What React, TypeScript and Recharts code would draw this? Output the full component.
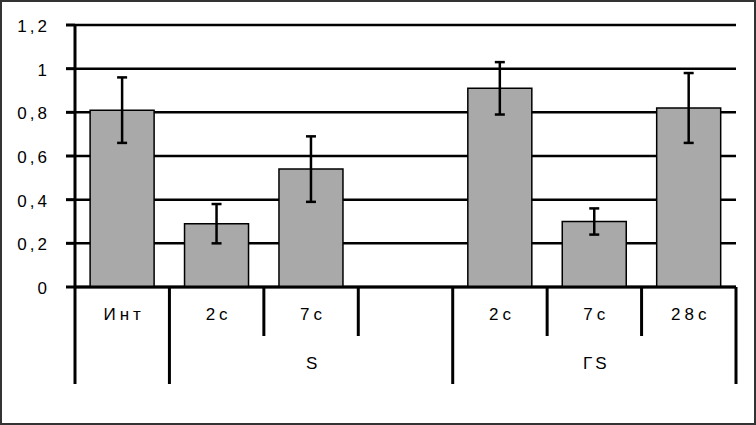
import React from "react";
import {
	Bar,
	BarChart,
	CartesianGrid,
	ErrorBar,
	XAxis,
	YAxis,
} from "recharts";

// categories along the bottom, one bar per slot ("" = empty slot)
const categories = ["Инт", "2с", "7с", "", "2с", "7с", "28с"];
const values = [0.81, 0.29, 0.54, null, 0.91, 0.3, 0.82];
const errors = [0.15, 0.09, 0.15, null, 0.12, 0.06, 0.16];
// second-row groups (index ranges into categories)
const groups = [
	{ label: "", from: 0, to: 0 },
	{ label: "S", from: 1, to: 3 },
	{ label: "ГS", from: 4, to: 6 },
];
const yTicks = [0, 0.2, 0.4, 0.6, 0.8, 1, 1.2];

const W = 756;
const H = 425;
const margin = { top: 25, right: 20, bottom: 0, left: 15 };
const Y_W = 60;
const X_H = 138;
const band = (W - margin.left - Y_W - margin.right) / categories.length;
const font = "'Liberation Sans', Arial, sans-serif";

const data = categories.map((c, i) => ({
	id: String(i),
	cat: c,
	value: values[i],
	err: errors[i],
}));

const fmt = (v: number) => String(v).replace(".", ",");

const YTick = (props: any) => {
	const { x, y, payload } = props;
	return (
		<text
			x={x}
			y={y}
			dy={7}
			textAnchor="end"
			fontFamily={font}
			fontSize={17}
			letterSpacing={3}
			fill="#000"
		>
			{fmt(payload.value)}
		</text>
	);
};

const CatTick = (props: any) => {
	const { x, y, index } = props;
	const left = x - band / 2;
	const right = x + band / 2;
	const shortLen = 49;
	const longLen = 97;
	const groupEnd = groups.some((g) => g.to === index);
	const group = groups.find((g) => (g.from + g.to) / 2 === index);
	return (
		<g>
			{index === 0 && (
				<line x1={left} x2={left} y1={y} y2={y + longLen} stroke="#000" strokeWidth={3} />
			)}
			<line
				x1={right}
				x2={right}
				y1={y}
				y2={y + (groupEnd ? longLen : shortLen)}
				stroke="#000"
				strokeWidth={3}
			/>
			<text
				x={x + 2}
				y={y + 33}
				textAnchor="middle"
				fontFamily={font}
				fontSize={17}
				letterSpacing={4}
				fill="#000"
			>
				{categories[index]}
			</text>
			{group && group.label && (
				<text
					x={x + 2}
					y={y + 82}
					textAnchor="middle"
					fontFamily={font}
					fontSize={17}
					letterSpacing={3}
					fill="#000"
				>
					{group.label}
				</text>
			)}
		</g>
	);
};

export default function App() {
	return (
		<div
			style={{
				width: W,
				height: H,
				background: "#fff",
				boxShadow: "inset 0 0 0 2px #333",
			}}
		>
			<style>{`body{margin:0}`}</style>
			<BarChart width={W} height={H} data={data} margin={margin} barCategoryGap="16%">
				<CartesianGrid vertical={false} stroke="#000" strokeWidth={2.5} />
				<XAxis
					dataKey="id"
					interval={0}
					height={X_H}
					tickLine={false}
					tickSize={0}
					tickMargin={0}
					axisLine={{ stroke: "#000", strokeWidth: 3 }}
					tick={<CatTick />}
				/>
				<XAxis
					xAxisId="top"
					dataKey="id"
					orientation="top"
					height={0}
					tick={false}
					tickLine={false}
					axisLine={{ stroke: "#999", strokeWidth: 3 }}
				/>
				<YAxis
					domain={[0, 1.2]}
					ticks={yTicks}
					width={Y_W}
					tickSize={9}
					tickMargin={16}
					tickLine={{ stroke: "#000", strokeWidth: 3 }}
					axisLine={{ stroke: "#000", strokeWidth: 3 }}
					tick={<YTick />}
				/>
				<YAxis
					yAxisId="right"
					orientation="right"
					domain={[0, 1.2]}
					width={0}
					tick={false}
					tickLine={false}
					axisLine={{ stroke: "#999", strokeWidth: 3 }}
				/>
				<Bar dataKey="value" fill="#a9a9a9" stroke="#000" strokeWidth={1.5} isAnimationActive={false}>
					<ErrorBar dataKey="err" width={5} stroke="#000" strokeWidth={2.5} />
				</Bar>
			</BarChart>
		</div>
	);
}
